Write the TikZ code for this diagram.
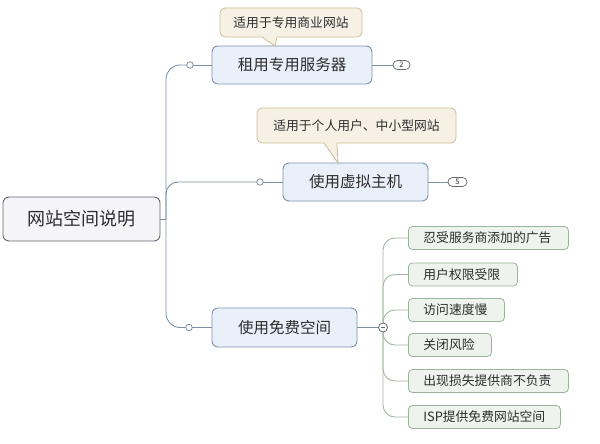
\documentclass[tikz,border=0pt]{standalone}
\usepackage{fontspec}
\setmainfont{Noto Sans CJK SC}
\usetikzlibrary{backgrounds,calc}
\definecolor{trunk}{RGB}{125,143,163}
\definecolor{bluefill}{RGB}{233,240,249}
\definecolor{blueline}{RGB}{124,147,173}
\definecolor{rootfill}{RGB}{245,244,247}
\definecolor{rootline}{RGB}{100,104,112}
\definecolor{greenfill}{RGB}{238,243,238}
\definecolor{greenline}{RGB}{155,180,155}
\definecolor{greenconn}{RGB}{160,184,160}
\definecolor{notefill}{RGB}{246,241,228}
\definecolor{noteline}{RGB}{204,190,148}
\definecolor{txt}{RGB}{45,45,45}
\tikzset{
  rootbox/.style={draw=rootline, fill=rootfill, line width=0.9pt, rounded corners=6pt, text=txt, font=\fontsize{18pt}{20pt}\selectfont, inner sep=0pt, minimum width=157pt, minimum height=44pt},
  branchbox/.style={draw=blueline, fill=bluefill, line width=0.9pt, rounded corners=6pt, text=txt, font=\fontsize{15.5pt}{18pt}\selectfont, inner sep=0pt, minimum height=38pt},
  leafbox/.style={draw=greenline, fill=greenfill, line width=0.8pt, rounded corners=4pt, text=txt, font=\fontsize{12.8pt}{15pt}\selectfont, inner sep=0pt, minimum height=23pt, anchor=west, text width=#1-30pt, align=left, minimum width=#1},
  notebox/.style={draw=noteline, fill=notefill, line width=0.8pt, rounded corners=5pt, text=txt, font=\fontsize{12.8pt}{15pt}\selectfont, inner sep=0pt},
  conn/.style={draw=trunk, line width=0.9pt},
  leafconn/.style={draw=greenconn, line width=0.9pt},
  knob/.style={circle, draw=trunk, fill=white, line width=0.8pt, inner sep=0pt, minimum size=6.5pt},
  pill/.style={draw=rootline, fill=white, line width=0.7pt, rounded corners=4.5pt, inner sep=0pt, minimum width=17pt, minimum height=9pt, font=\fontsize{7.5pt}{7.5pt}\selectfont, text=txt},
}
\begin{document}
\begin{tikzpicture}[x=1pt,y=-1pt]
\useasboundingbox (0,0) rectangle (600,444);

% root
\node[rootbox] (root) at (81.5,219) {网站空间说明};

% branches
\node[branchbox, minimum width=160pt] (b1) at (292,65) {租用专用服务器};
\node[branchbox, minimum width=145pt] (b2) at (355.5,182) {使用虚拟主机};
\node[branchbox, minimum width=145pt, minimum height=39pt] (b3) at (284.5,327.5) {使用免费空间};

% knobs
\node[knob] (k1) at (190,65) {};
\node[knob] (k2) at (260,182) {};
\node[knob] (k3) at (189,327.5) {};

% pills
\node[pill] (p1) at (401.5,65) {2};
\node[pill, minimum width=19pt] (p2) at (457.5,182) {5};

% minus
\node[circle, draw=rootline, fill=white, line width=0.8pt, minimum size=9pt, inner sep=0pt] (m) at (383,327.5) {};
\draw[rootline, line width=0.9pt] ($(m.center)+(-2.2,0)$) -- ($(m.center)+(2.2,0)$);

% leaves
\node[leafbox=160pt] (l1) at (408,238) {忍受服务商添加的广告};
\node[leafbox=109pt] (l2) at (408,274.5) {用户权限受限};
\node[leafbox=96pt] (l3) at (408,310) {访问速度慢};
\node[leafbox=83pt] (l4) at (408,345) {关闭风险};
\node[leafbox=160pt] (l5) at (408,381) {出现损失提供商不负责};
\node[leafbox=152pt] (l6) at (408,417) {ISP提供免费网站空间};

% notes
\node[notebox, minimum width=142pt, minimum height=29pt] (n1) at (291,22.5) {适用于专用商业网站};
\node[notebox, minimum width=199pt, minimum height=35pt] (n2) at (356.5,125.5) {适用于个人用户、中小型网站};
\coordinate (t1) at (275,46);
\coordinate (t2) at (338,163);
\fill[notefill] (262,36) -- (t1) -- (277,36) -- cycle;
\draw[noteline, line width=0.8pt] (262,37) -- (t1) -- (277,37);
\fill[notefill] (324,142) -- (t2) -- (337,142) -- cycle;
\draw[noteline, line width=0.8pt] (324,143) -- (t2) -- (337,143);

\begin{pgfonlayer}{background}
\fill[white] (0,0) rectangle (600,444);
\coordinate (tr) at (166,219);
\draw[conn] (root.east) -- (tr);
\draw[conn, rounded corners=14pt] (tr) |- (k1.center);
\draw[conn, rounded corners=12pt] (tr) |- (k2.center);
\draw[conn, rounded corners=14pt] (tr) |- (k3.center);
\draw[conn] (k1.center) -- (b1.west);
\draw[conn] (k2.center) -- (b2.west);
\draw[conn] (k3.center) -- (b3.west);
\draw[conn] (b1.east) -- (p1.west);
\draw[conn] (b2.east) -- (p2.west);
\draw[conn] (b3.east) -- (m.center);
\foreach \l in {l1,l2,l3,l4,l5,l6}{
  \draw[leafconn, rounded corners=12pt] (m.center) |- (\l.west);
}
\end{pgfonlayer}
\end{tikzpicture}
\end{document}
